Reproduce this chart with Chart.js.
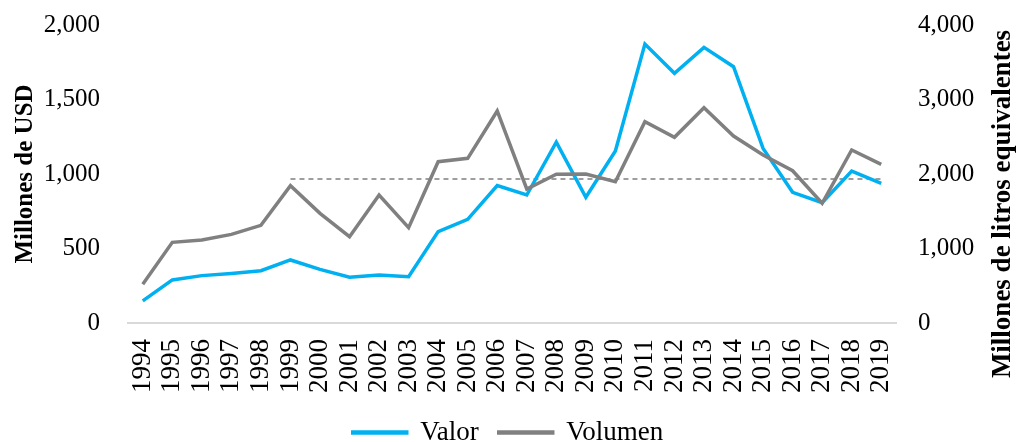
<!DOCTYPE html>
<html>
<head>
<meta charset="utf-8">
<script src="https://cdn.jsdelivr.net/npm/chart.js@4/dist/chart.umd.min.js"></script>
<style>
  html, body { margin: 0; padding: 0; background: #fff; }
  #wrap { width: 1016px; height: 442px; }
</style>
</head>
<body>
<div id="wrap"><canvas id="grafico" width="1016" height="442"></canvas></div>
<script>
const years = ['1994','1995','1996','1997','1998','1999','2000','2001','2002','2003','2004','2005','2006',
  '2007','2008','2009','2010','2011','2012','2013','2014','2015','2016','2017','2018','2019']

// millones de USD (eje izq)
const valor = [148, 289, 318, 333, 351, 423, 360, 307, 322, 311, 613, 696, 922,
  859, 1213, 844, 1154, 1872, 1676, 1850, 1720, 1172, 877, 807, 1020, 937]

// millones de litros equivalentes (eje der)
const volumen = [519, 1083, 1114, 1190, 1311, 1843, 1472, 1159, 1718, 1280, 2165, 2210, 2846,
  1799, 1996, 2000, 1897, 2702, 2492, 2890, 2510, 2255, 2044, 1607, 2322, 2130]

// linea punteada (promedio volumen 1999-2019)
const promedio = [null, null, null, null, null, 1933, 1933, 1933, 1933, 1933, 1933, 1933, 1933,
  1933, 1933, 1933, 1933, 1933, 1933, 1933, 1933, 1933, 1933, 1933, 1933, 1933]

const leftTicks = [0, 500, 1000, 1500, 2000]
const rightTicks = [0, 1000, 2000, 3000, 4000]

const serif = 'Liberation Serif'
const fmt = (v) => v.toLocaleString('en-US')

// titulo del eje derecho, leido de abajo hacia arriba
const tituloDerecho = {
  id: 'tituloDerecho',
  afterDraw(chart) {
    const c = chart.ctx
    c.save()
    c.translate(1003, 204)
    c.rotate(-Math.PI / 2)
    c.font = 'bold 27px "' + serif + '"'
    c.fillStyle = '#000'
    c.textAlign = 'center'
    c.textBaseline = 'middle'
    c.fillText('Millones de litros equivalentes', 0, 0)
    c.restore()
  }
}

const data = {
  labels: years,
  datasets: [
    {
      label: 'Valor',
      data: valor,
      yAxisID: 'y',
      borderColor: '#00b0f0',
      backgroundColor: '#00b0f0',
      borderWidth: 3.5,
      pointRadius: 0,
      tension: 0,
      order: 1
    },
    {
      label: 'Volumen',
      data: volumen,
      yAxisID: 'y2',
      borderColor: '#808080',
      backgroundColor: '#808080',
      borderWidth: 3.5,
      pointRadius: 0,
      tension: 0,
      order: 0
    },
    {
      label: 'promedio',
      data: promedio,
      yAxisID: 'y2',
      borderColor: '#7f7f7f',
      borderWidth: 1.3,
      borderDash: [5, 4],
      pointRadius: 0,
      tension: 0,
      order: 2
    }
  ]
}

const config = {
  type: 'line',
  data: data,
  plugins: [tituloDerecho],
  options: {
    responsive: false,
    animation: false,
    layout: { padding: { top: 25, left: 0, right: 0, bottom: -14 } },
    plugins: {
      tooltip: { enabled: false },
      legend: {
        position: 'bottom',
        labels: {
          color: '#000',
          font: { family: serif, size: 27, lineHeight: 1 },
          boxWidth: 54,
          boxHeight: 1,
          padding: 20,
          filter: (item) => item.text !== 'promedio',
          sort: (a, b) => a.datasetIndex - b.datasetIndex
        }
      }
    },
    scales: {
      x: {
        offset: true,
        grid: { display: false, drawTicks: false },
        border: { display: true, color: '#d9d9d9', width: 2 },
        ticks: {
          color: '#000',
          font: { family: serif, size: 27 },
          minRotation: 90,
          maxRotation: 90,
          autoSkip: false,
          padding: 16
        },
        afterFit: (s) => { s.height = 76 }
      },
      y: {
        position: 'left',
        min: 0,
        max: 2000,
        afterBuildTicks: (s) => { s.ticks = leftTicks.map(v => ({ value: v })) },
        grid: { display: false, drawTicks: false },
        border: { display: false },
        ticks: {
          color: '#000',
          font: { family: serif, size: 25 },
          padding: 28,
          callback: fmt
        },
        title: {
          display: true,
          text: 'Millones de USD',
          color: '#000',
          font: { family: serif, size: 25, weight: 'bold' },
          padding: { top: 11, bottom: 0 }
        },
        afterFit: (s) => { s.width = 128; s.paddingTop = 0; s.paddingBottom = 0 }
      },
      y2: {
        position: 'right',
        min: 0,
        max: 4000,
        afterBuildTicks: (s) => { s.ticks = rightTicks.map(v => ({ value: v })) },
        grid: { display: false, drawTicks: false },
        border: { display: false },
        ticks: {
          color: '#000',
          font: { family: serif, size: 25 },
          padding: 22,
          callback: fmt
        },
        afterFit: (s) => { s.width = 120; s.paddingTop = 0; s.paddingBottom = 0 }
      }
    }
  }
}

new Chart(document.getElementById('grafico'), config)
</script>
</body>
</html>
